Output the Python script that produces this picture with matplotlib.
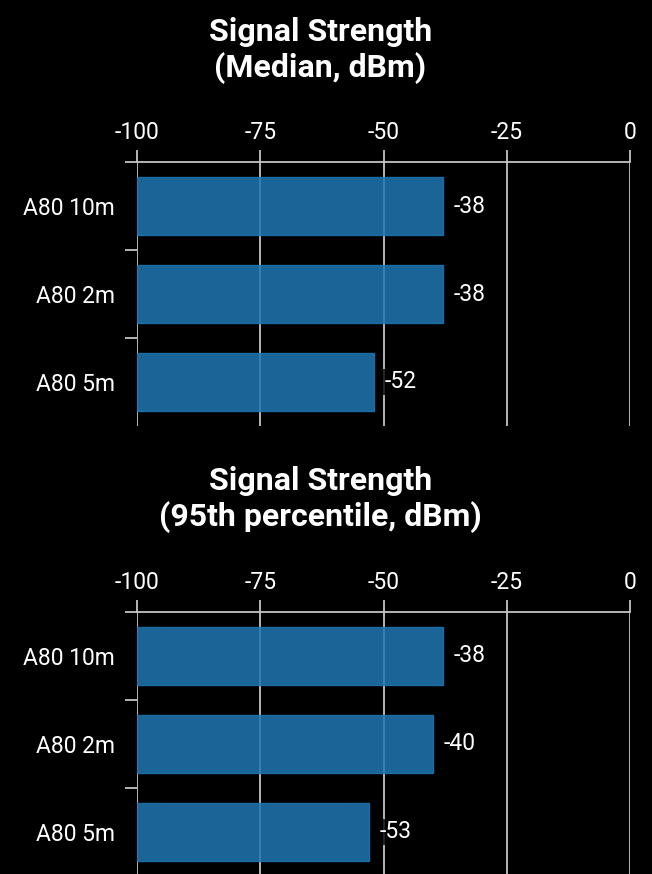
import matplotlib.pyplot as plt
from matplotlib.ticker import FixedLocator

# --------------------------
# Data
# --------------------------
devices = ["A80 10m", "A80 2m", "A80 5m"]
median_dbm = [-38, -38, -52]
p95_dbm = [-38, -40, -53]
titles = ["Signal Strength\n(Median, dBm)", "Signal Strength\n(95th percentile, dBm)"]
xticks = [-100, -75, -50, -25, 0]
x_floor = -100

plt.rcParams['font.family'] = ['Roboto', 'DejaVu Sans']

BAR = '#1f77b4'
GRID = '#c4c4c4'

fig = plt.figure(figsize=(6.52, 8.74), dpi=100, facecolor='black')

# axes boxes in figure fractions: left, bottom, width, height
boxes = [(0.2101, 0.5126, 0.7562, 0.3020),
         (0.2101, -0.002, 0.7562, 0.3018)]
title_y = [0.942, 0.428]


def draw_panel(ax, values, title, ty):
    ax.set_facecolor('black')
    ypos = list(range(len(devices)))
    # bars grow from the left edge of the scale (-100 dBm)
    ax.barh(ypos, [v - x_floor for v in values], left=x_floor, height=0.66,
            color=BAR, alpha=0.85, edgecolor=BAR, linewidth=1, zorder=1)
    ax.set_xlim(-100, 0)
    ax.set_ylim(len(devices) - 0.5, -0.5)

    ax.xaxis.tick_top()
    ax.set_xticks(xticks)
    ax.set_xticklabels([str(t) for t in xticks])
    ax.tick_params(axis='x', colors=GRID, labelcolor='white', labelsize=16.5,
                   length=9, width=1.3, pad=4)
    ax.grid(axis='x', color=GRID, linewidth=1.3, zorder=0)
    ax.set_axisbelow(True)

    ax.set_yticks(ypos)
    ax.set_yticklabels(devices)
    ax.yaxis.set_minor_locator(FixedLocator([y - 0.5 for y in ypos]))
    ax.tick_params(axis='y', which='major', length=0, labelcolor='white',
                   labelsize=16.5, pad=16)
    ax.tick_params(axis='y', which='minor', length=9, width=1.3, color=GRID)

    for side in ['left', 'right', 'bottom']:
        ax.spines[side].set_visible(False)
    ax.spines['top'].set_color(GRID)
    ax.spines['top'].set_linewidth(1.3)

    for y, v in zip(ypos, values):
        ax.annotate(f"{v}", (v, y), xytext=(8, 0), textcoords='offset points',
                    va='center', ha='left', color='white', fontsize=16.5,
                    bbox=dict(facecolor='black', edgecolor='none', pad=1, alpha=0.8))

    fig.text(0.491, ty, title, ha='center', va='center', color='white',
             fontsize=23, fontweight='bold', linespacing=1.2)


for box, vals, t, ty in zip(boxes, [median_dbm, p95_dbm], titles, title_y):
    ax = fig.add_axes(box)
    draw_panel(ax, vals, t, ty)

fig.savefig("out.png", dpi=100, facecolor='black')
